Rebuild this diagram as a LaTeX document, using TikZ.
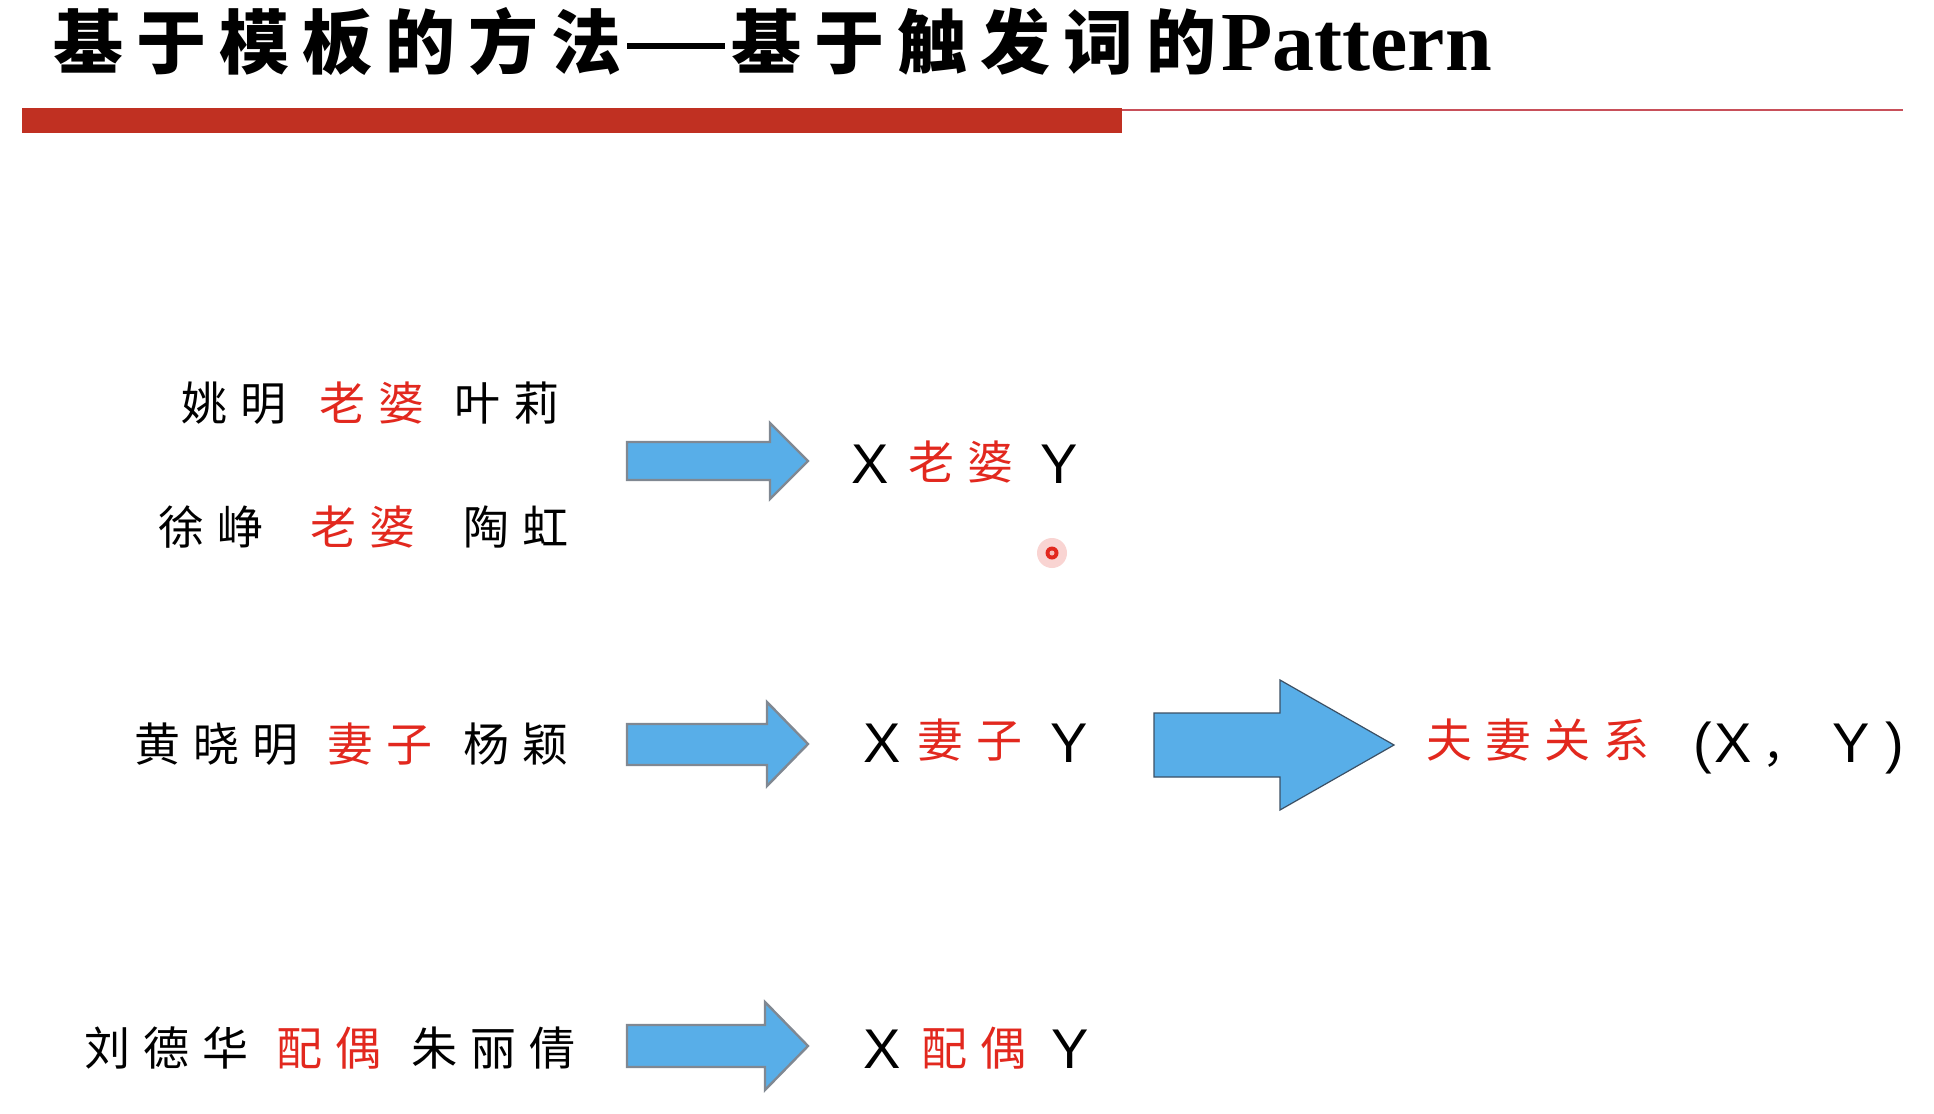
\documentclass[tikz,border=0pt]{standalone}
\usepackage{fontspec}
\setmainfont{Liberation Sans}
\newfontfamily\cjk{Noto Sans CJK SC}
\newfontfamily\titleserif{Liberation Serif}
\definecolor{barred}{RGB}{192,48,34}
\definecolor{thinred}{RGB}{200,80,90}
\definecolor{hlred}{RGB}{226,40,30}
\definecolor{arrowblue}{RGB}{88,174,232}
\definecolor{arrowedge}{RGB}{128,136,146}
\definecolor{bigedge}{RGB}{60,80,100}
\newcommand\cg{\hspace{6.5pt}}
\newcommand\tg{\hspace{6.5pt}}
\tikzset{
  cjktxt/.style={inner sep=0pt, anchor=west, font=\cjk\fontsize{23pt}{28pt}\selectfont},
  redtxt/.style={cjktxt, text=hlred},
  lat/.style={inner sep=0pt, anchor=base west, font=\fontsize{28pt}{32pt}\selectfont},
  smallarrow/.style={fill=arrowblue, draw=arrowedge, line width=1.2pt, line join=miter},
  bigarrow/.style={fill=arrowblue, draw=bigedge, line width=0.6pt, line join=miter}
}
\begin{document}
\begin{tikzpicture}[x=0.5pt,y=-0.5pt]
\useasboundingbox (0,0) rectangle (1934,1114);
\fill[white] (0,0) rectangle (1934,1114);
% title
\node[anchor=west, inner sep=0pt, font=\cjk\bfseries\fontsize{35pt}{40pt}\selectfont] (title) at (53,42)
  {基\tg 于\tg 模\tg 板\tg 的\tg 方\tg 法\hspace{3pt}\rule[10pt]{49pt}{3pt}\hspace{3pt}基\tg 于\tg 触\tg 发\tg 词\tg 的};
\node[anchor=base west, inner sep=0pt, font=\titleserif\bfseries\fontsize{42pt}{46pt}\selectfont] (pat) at (1221,70) {Pattern};
% header bars
\fill[barred] (22,108) rectangle (1122,133);
\draw[thinred, line width=1pt] (1122,110) -- (1903,110);
% row 1 & 2
\node[cjktxt] (a1) at (181,403) {姚\cg 明};
\node[redtxt] (a2) at (319,403) {老\cg 婆};
\node[cjktxt] (a3) at (454,403) {叶\cg 莉};
\node[cjktxt] (b1) at (158,527) {徐\cg 峥};
\node[redtxt] (b2) at (310,527) {老\cg 婆};
\node[cjktxt] (b3) at (463,527) {陶\cg 虹};
\draw[smallarrow] (627,442) -- (770,442) -- (770,423) -- (808,461) -- (770,499) -- (770,480) -- (627,480) -- cycle;
\node[lat] (x1) at (851,483) {X};
\node[redtxt] (w1) at (908,462) {老\cg 婆};
\node[lat] (y1) at (1040,483) {Y};
% laser dot
\fill[hlred, opacity=0.2] (1052,553) circle (15);
\fill[hlred] (1052,553) circle (6.5);
\fill[white, opacity=0.7] (1052,553) circle (2.5);
% row 3
\node[cjktxt] (c1) at (134,744) {黄\cg 晓\cg 明};
\node[redtxt] (c2) at (327,744) {妻\cg 子};
\node[cjktxt] (c3) at (463,744) {杨\cg 颖};
\draw[smallarrow] (627,724) -- (767,724) -- (767,702) -- (808,744) -- (767,786) -- (767,765) -- (627,765) -- cycle;
\node[lat] (x3) at (863,762) {X};
\node[redtxt] (w3) at (917,740) {妻\cg 子};
\node[lat] (y3) at (1050,762) {Y};
\draw[bigarrow] (1154,713) -- (1280,713) -- (1280,680) -- (1394,745) -- (1280,810) -- (1280,777) -- (1154,777) -- cycle;
\node[redtxt] (rel) at (1426,740) {夫\cg 妻\cg 关\cg 系};
\node[lat] (lp) at (1693,762) {(};
\node[lat] (xr) at (1714,762) {X};
\node[inner sep=0pt, anchor=base west, font=\cjk\fontsize{23pt}{28pt}\selectfont] (cm) at (1762,762) {，};
\node[lat] (yr) at (1832,762) {Y};
\node[lat] (rp) at (1885,762) {)};
% row 4
\node[cjktxt] (d1) at (84,1048) {刘\cg 德\cg 华};
\node[redtxt] (d2) at (276,1048) {配\cg 偶};
\node[cjktxt] (d3) at (411,1048) {朱\cg 丽\cg 倩};
\draw[smallarrow] (627,1025) -- (765,1025) -- (765,1002) -- (808,1046) -- (765,1090) -- (765,1067) -- (627,1067) -- cycle;
\node[lat] (x4) at (863,1068) {X};
\node[redtxt] (w4) at (921,1048) {配\cg 偶};
\node[lat] (y4) at (1051,1068) {Y};
\end{tikzpicture}
\end{document}
